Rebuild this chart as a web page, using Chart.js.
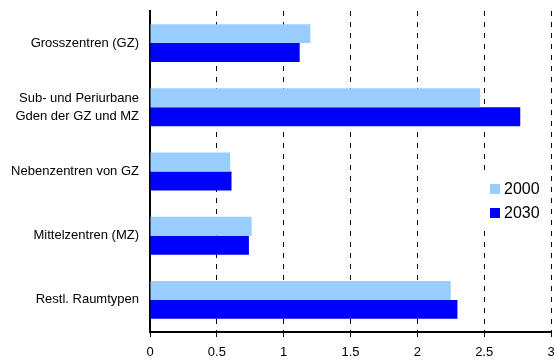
<!DOCTYPE html>
<html>
<head>
<meta charset="utf-8">
<script src="https://cdn.jsdelivr.net/npm/chart.js@4/dist/chart.umd.min.js"></script>
<style>
  html, body { margin: 0; padding: 0; background: #fff; }
</style>
</head>
<body>
<canvas id="chart" width="554" height="360"></canvas>
<script>
// data
const categories = [
  'Grosszentren (GZ)',
  ['Sub- und Periurbane', 'Gden der GZ und MZ'],
  'Nebenzentren von GZ',
  'Mittelzentren (MZ)',
  'Restl. Raumtypen'
];
const values2000 = [1.20, 2.47, 0.60, 0.76, 2.25];
const values2030 = [1.12, 2.77, 0.61, 0.74, 2.30];
const xTicks = [0, 0.5, 1, 1.5, 2, 2.5, 3];

const FONT = '"Liberation Sans", Arial, sans-serif';

// legend sits inside the plot area with a white box behind it
const boxLegend = {
  id: 'boxLegend',
  afterDraw(chart) {
    const ctx = chart.ctx;
    const a = chart.chartArea;
    const x = a.right - 69, y = a.top + 164;
    ctx.save();
    ctx.fillStyle = '#fff';
    ctx.fillRect(x, y, 66, 53);
    ctx.font = '16px ' + FONT;
    ctx.textBaseline = 'middle';
    chart.data.datasets.forEach((ds, i) => {
      const cy = y + 14 + i * 24;
      ctx.fillStyle = ds.backgroundColor;
      ctx.fillRect(x + 8, cy - 5, 10, 10);
      ctx.fillStyle = '#000';
      ctx.fillText(ds.label, x + 22, cy + 1);
    });
    ctx.restore();
  }
};

new Chart(document.getElementById('chart').getContext('2d'), {
  type: 'bar',
  data: {
    labels: categories,
    datasets: [
      { label: '2000', data: values2000, backgroundColor: '#99ccff' },
      { label: '2030', data: values2030, backgroundColor: '#0000ff' }
    ]
  },
  options: {
    indexAxis: 'y',
    responsive: false,
    animation: false,
    devicePixelRatio: 1,
    layout: { padding: { top: 11, right: 3, left: 0, bottom: 0 } },
    datasets: { bar: { categoryPercentage: 0.59, barPercentage: 1.0, borderWidth: 0 } },
    plugins: { legend: { display: false }, tooltip: { enabled: false } },
    scales: {
      x: {
        type: 'linear',
        min: 0,
        max: 3,
        afterBuildTicks: s => { s.ticks = xTicks.map(v => ({ value: v })); },
        afterFit: s => { s.height = 28; s.paddingRight = 0; s.paddingLeft = 0; },
        grid: { color: '#000', lineWidth: 1, tickLength: 5, tickBorderDash: [] },
        border: { color: '#000', width: 2, dash: [5, 6] },
        ticks: {
          color: '#000', padding: 8, maxRotation: 0,
          font: { size: 13, family: FONT },
          callback: v => String(v)
        }
      },
      y: {
        afterFit: s => { s.width = 150; s.paddingTop = 0; s.paddingBottom = 0; },
        grid: { display: false, drawTicks: false },
        border: { color: '#000', width: 2 },
        ticks: { color: '#000', padding: 11, font: { size: 13, family: FONT, lineHeight: 1.4 } }
      }
    }
  },
  plugins: [boxLegend]
});
</script>
</body>
</html>
